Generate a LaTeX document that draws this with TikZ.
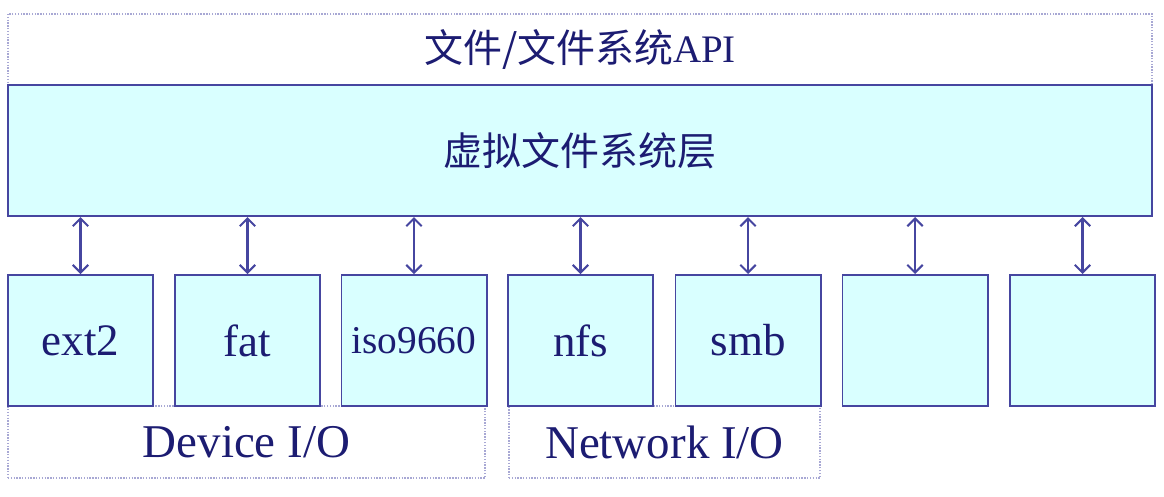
\documentclass[tikz,border=0pt]{standalone}
\usepackage{fontspec}
\setmainfont{Liberation Serif}
\newfontfamily\cjk{Noto Sans CJK SC}
\usetikzlibrary{arrows.meta}
\definecolor{boxfill}{HTML}{D9FFFF}
\definecolor{boxline}{HTML}{4646A0}
\definecolor{ink}{HTML}{1C1C72}
\definecolor{dots}{HTML}{A8A8D4}
\tikzset{
  layer/.style={draw=boxline, fill=boxfill, line width=1.4pt, inner sep=0pt, text=ink},
  fsbox/.style={layer, minimum width=3.625cm, minimum height=3.275cm, font=\fontsize{32}{32}\selectfont},
  group/.style={draw=dots, densely dotted, line width=1pt, inner sep=0pt, text=ink},
  link/.style={{Straight Barb[length=5.5pt,width=11pt]}-{Straight Barb[length=5.5pt,width=11pt]}, draw=boxline, line width=1.5pt}
}
\begin{document}
\begin{tikzpicture}[x=0.025cm, y=-0.025cm]
      \useasboundingbox (0,0) rectangle (1164,496);
      % top layers
      \node[group, minimum width=28.6cm, minimum height=1.775cm, font=\fontsize{27.7}{27.7}\selectfont] (api) at (580,49.5){\cjk 文件/文件系统\rmfamily API};
      \node[layer, minimum width=28.575cm, minimum height=3.275cm, font=\cjk\fontsize{27.7}{27.7}\selectfont] (vfs) at (580,150.5){虚拟文件系统层};
      % I/O groups
      \node[group, minimum width=11.925cm, minimum height=1.8cm, font=\fontsize{33.4}{33.4}\selectfont] (dev) at (246.5,442){Device I/O};
      \node[group, minimum width=7.775cm, minimum height=1.8cm, font=\fontsize{33.4}{33.4}\selectfont] (net) at (664.5,442){Network I/O};
      % file systems
      \node[fsbox] (fs1) at (80.5,340.5){ext2};
      \node[fsbox] (fs2) at (247.5,340.5){fat};
      \node[fsbox, font=\fontsize{28}{28}\selectfont] (fs3) at (414,340.5){iso9660};
      \node[fsbox] (fs4) at (580.5,340.5){nfs};
      \node[fsbox] (fs5) at (748,340.5){smb};
      \node[fsbox] (fs6) at (915,340.5){};
      \node[fsbox] (fs7) at (1082.5,340.5){};
      
      \foreach \i in {1,...,7}
        \draw[link] (fs\i.north) -- (fs\i.north |- vfs.south);
    \end{tikzpicture}
\end{document}
